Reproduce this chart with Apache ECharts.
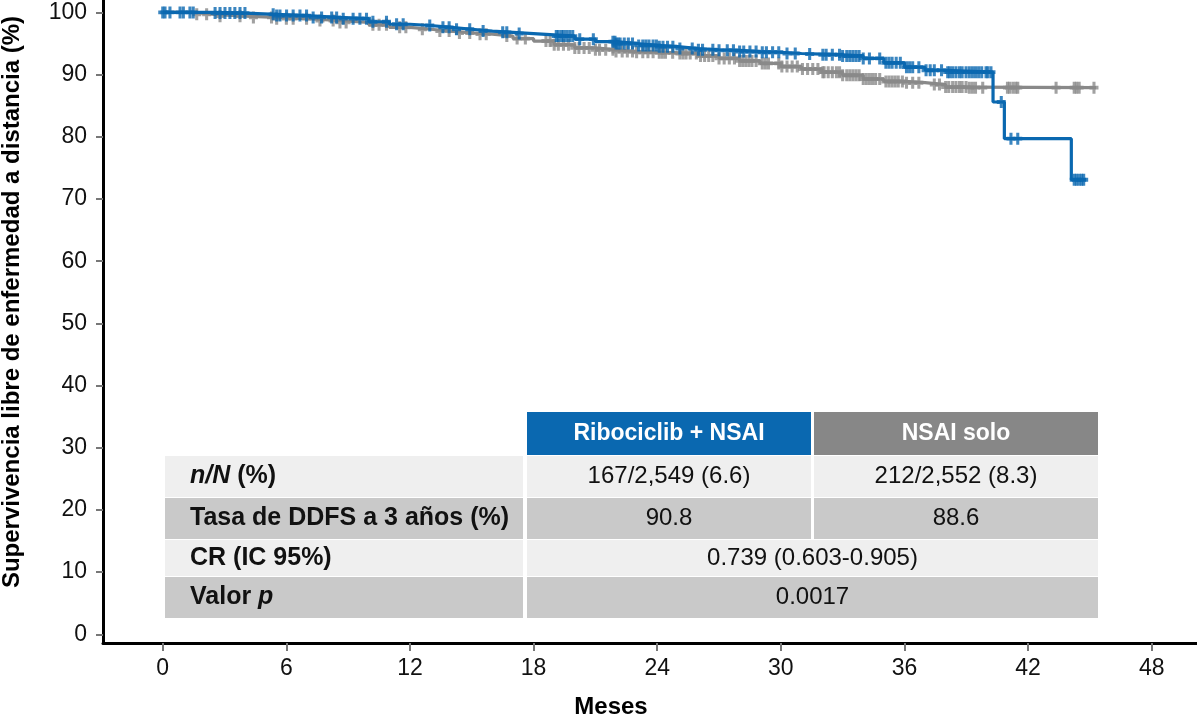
<!DOCTYPE html>
<html><head><meta charset="utf-8">
<script src="https://cdn.jsdelivr.net/npm/echarts@6/dist/echarts.min.js"></script>
<style>html,body{margin:0;padding:0;background:#fff}#c{width:1197px;height:724px}</style>
</head><body><div id="c"></div>
<script>
// ---- data ----
const xTicks = [0, 6, 12, 18, 24, 30, 36, 42, 48];
const yTicks = [0, 10, 20, 30, 40, 50, 60, 70, 80, 90, 100];

const blueTimes = [0, 2.5, 4, 5.5, 7, 8.5, 10, 11, 12, 13, 14, 15, 16, 17, 18, 19, 20, 21, 22, 23, 24, 25, 26, 27, 28, 29, 30, 31, 32, 33, 34, 35, 36, 37, 38, 40.3, 40.85, 44.1, 44.8];
const blueSurv  = [100, 99.9, 99.7, 99.5, 99.2, 99.0, 98.5, 98.1, 97.9, 97.6, 97.3, 97.0, 96.8, 96.6, 96.4, 96.2, 95.7, 95.3, 95.0, 94.7, 94.5, 94.2, 94.0, 93.9, 93.7, 93.6, 93.4, 93.3, 93.2, 93.0, 92.6, 91.9, 91.2, 90.7, 90.4, 85.6, 79.7, 73.1, 73.1];
const blueCensor = [0.0, 0.11, 0.35, 0.84, 1.0, 1.32, 1.48, 2.54, 2.78, 3.02, 3.26, 3.5, 3.75, 3.99, 5.36, 5.53, 5.69, 6.01, 6.33, 6.66, 6.98, 7.3, 7.71, 8.2, 8.44, 8.76, 9.24, 9.57, 9.89, 10.2, 10.86, 11.35, 11.67, 12.96, 13.6, 13.9, 14.26, 14.9, 15.55,
  16.5, 16.7, 17.3, 19.1, 19.35, 19.6, 19.9, 20.24, 20.9, 21.85, 22.0, 22.2, 22.6, 22.8, 23.3, 23.6, 23.96, 24.28, 24.76, 25.1, 25.7, 26.2, 26.7, 27.0, 27.4, 27.7, 28.2, 28.5, 28.8, 29.3, 29.6, 29.9, 30.3, 30.7, 31.4, 32.04, 32.2, 32.5, 32.85, 33.2, 33.5, 33.8,
  34.3, 34.8, 35.1, 35.4, 35.8, 36.1, 36.4, 36.7, 37.05, 37.45, 37.8, 38.1, 38.34, 38.67, 38.99, 39.3, 39.6, 39.96, 40.2, 40.7, 41.17, 41.5, 44.24, 44.48, 44.7,
  19.2, 19.45, 19.75, 21.95, 22.1, 22.4, 23.1, 23.45, 23.8, 24.1, 24.5, 26.0, 28.0, 29.1, 33.0, 33.35, 33.65, 34.0, 35.25, 35.6, 36.25, 37.25, 38.2, 38.5, 38.8, 39.15, 39.45, 39.75, 40.05, 44.35, 44.6];

const grayTimes = [0, 1.5, 2.5, 4, 5.5, 7, 8.5, 10, 11, 12, 13, 14, 15, 16, 17, 18, 19, 20, 21, 22, 23, 24, 25, 26, 27, 28, 29, 30, 31, 32, 33, 34, 35, 36, 37, 38, 39, 45.3];
const graySurv  = [100, 99.7, 99.4, 99.2, 99.0, 98.7, 98.4, 98.0, 97.6, 97.3, 97.0, 96.7, 96.5, 96.2, 95.8, 95.4, 94.8, 94.3, 94.0, 93.7, 93.6, 93.5, 93.4, 93.0, 92.6, 92.2, 91.8, 91.3, 90.9, 90.4, 89.9, 89.3, 88.9, 88.7, 88.4, 88.0, 87.9, 87.9];
const grayCensor = [1.65, 2.13, 2.78, 3.75, 4.4, 5.28, 5.53, 6.0, 6.33, 6.98, 7.63, 8.27, 8.6, 8.9, 10.2, 10.5, 10.86, 11.5, 11.8, 12.6, 13.45, 13.9, 14.4, 14.9, 15.4, 15.7,
  16.7, 17.2, 17.6, 18.6, 19.2, 19.7, 20.2, 20.7, 21.2, 21.85, 22.3, 22.8, 23.3, 23.8, 24.1, 24.4, 25.1, 25.4, 25.9, 26.3, 26.7, 27.0, 27.5, 28.0, 28.3, 28.6, 29.1, 29.4, 29.9, 30.3, 30.8, 31.3, 31.8, 32.04, 32.3, 32.5, 32.7, 32.85, 33.2, 33.5, 33.8, 34.15,
  34.6, 34.8, 35.1, 35.4, 35.7, 36.1, 36.4, 36.7, 37.45, 37.7, 38.0, 38.34, 38.67, 38.99, 39.3, 39.8, 41.0, 41.26, 41.5, 43.36, 44.24, 44.48, 45.2,
  18.8, 19.0, 19.45, 20.0, 20.45, 21.0, 21.5, 22.0, 22.55, 23.0, 23.55, 24.25, 24.75, 25.25, 25.6, 26.1, 26.5, 27.25, 27.75, 28.15, 28.45, 28.8, 29.25, 30.05, 30.55, 31.05, 31.55, 32.1, 33.0, 33.35, 33.65, 34.0, 34.3, 34.45, 35.25, 35.55, 35.9, 38.15, 38.5, 38.8, 39.15, 39.45, 41.1, 41.4, 44.35];

const seriesNames = ['Ribociclib + NSAI', 'NSAI solo'];
const rowLabels = ['{i|n/N} (%)', 'Tasa de DDFS a 3 años (%)', 'CR (IC 95%)', 'Valor {i|p}'];
const rowBlue = ['167/2,549 (6.6)', '90.8'];
const rowGray = ['212/2,552 (8.3)', '88.6'];
const rowMerged = ['0.739 (0.603-0.905)', '0.0017'];

// ---- build ----
const BLUE = '#0a68b0', GRAY = '#898989';
const FONT = "'Liberation Sans', Arial, Helvetica, sans-serif";
function pairs(t, v) { return t.map((x, i) => [x, v[i]]); }
function survAt(t, v, x) { let s = v[0]; for (let i = 0; i < t.length; i++) if (t[i] <= x) s = v[i]; return s; }
const plus = 'path://M3.3,0h3.4v3.4h3.3v3.2h-3.3v3.4h-3.4v-3.4h-3.3v-3.2h3.3z';

const chart = echarts.init(document.getElementById('c'), null, {renderer: 'canvas'});

const g = [];
const colL = [165, 523], colB = [527, 811], colG = [814, 1098];
const rowsY = [[412, 455], [456, 497], [498, 539], [540, 576], [577, 618]];
const light = '#efefef', dark = '#c9c9c9';
function rect(x0, x1, y0, y1, fill) { g.push({type: 'rect', shape: {x: x0, y: y0, width: x1 - x0, height: y1 - y0}, style: {fill}, z: 10}); }
function txt(text, x, y, size, weight, fill, align) {
  g.push({type: 'text', x, y, z: 11, style: {text, fontSize: size, fontWeight: weight, fontFamily: FONT, fill: fill, align: align || 'center', verticalAlign: 'middle',
    rich: {i: {fontStyle: 'italic', fontWeight: 'bold', fontSize: size, fontFamily: FONT, fill: fill}}}});
}
rect(colB[0], colB[1], rowsY[0][0], rowsY[0][1], BLUE);
rect(colG[0], colG[1], rowsY[0][0], rowsY[0][1], '#878787');
txt(seriesNames[0], (colB[0] + colB[1]) / 2, 434, 23, 'bold', '#fff');
txt(seriesNames[1], (colG[0] + colG[1]) / 2, 434, 23, 'bold', '#fff');
for (let r = 0; r < 4; r++) {
  const [y0, y1] = rowsY[r + 1];
  const fill = r % 2 === 0 ? light : dark;
  rect(colL[0], colL[1], y0, y1, fill);
  const cy = (y0 + y1) / 2;
  txt(rowLabels[r], 190, cy, 25, 'bold', '#111', 'left');
  if (r < 2) {
    rect(colB[0], colB[1], y0, y1, fill);
    rect(colG[0], colG[1], y0, y1, fill);
    txt(rowBlue[r], (colB[0] + colB[1]) / 2, cy, 24, 'normal', '#111');
    txt(rowGray[r], (colG[0] + colG[1]) / 2, cy, 24, 'normal', '#111');
  } else {
    rect(colB[0], colG[1], y0, y1, fill);
    txt(rowMerged[r - 2], (colB[0] + colG[1]) / 2, cy, 24, 'normal', '#111');
  }
}
g.push({type: 'text', x: 611, y: 707, z: 11, style: {text: 'Meses', fontSize: 24, fontWeight: 'bold', fontFamily: FONT, fill: '#000', align: 'center', verticalAlign: 'middle'}});
g.push({type: 'text', x: 12, y: 302, rotation: Math.PI / 2, z: 11, style: {text: 'Supervivencia libre de enfermedad a distancia (%)', fontSize: 24, fontWeight: 'bold', fontFamily: FONT, fill: '#000', align: 'center', verticalAlign: 'middle'}});

const option = {
  animation: false,
  grid: {left: 103, right: 0, top: 0, bottom: 81, containLabel: false},
  xAxis: {
    type: 'value', min: -2.9, max: 50.2,
    axisLine: {onZero: false, lineStyle: {color: '#000', width: 3}},
    axisTick: {customValues: xTicks, length: 8, lineStyle: {color: '#777', width: 2}},
    axisLabel: {customValues: xTicks, margin: 14, fontSize: 23, color: '#111', fontFamily: FONT},
    splitLine: {show: false}
  },
  yAxis: {
    type: 'value', min: -1.4, max: 102,
    axisLine: {show: true, onZero: false, lineStyle: {color: '#000', width: 3}},
    axisTick: {show: true, customValues: yTicks, length: 7, lineStyle: {color: '#777', width: 2}},
    axisLabel: {customValues: yTicks, margin: 16, fontSize: 23, color: '#111', fontFamily: FONT},
    splitLine: {show: false}
  },
  series: [
    {name: seriesNames[1], type: 'line', step: 'end', symbol: 'none', data: pairs(grayTimes, graySurv), lineStyle: {color: GRAY, width: 3.2}, z: 2},
    {name: seriesNames[1] + ' censor', type: 'scatter', symbol: plus, symbolSize: [9, 12], itemStyle: {color: GRAY}, data: grayCensor.map(t => [t, survAt(grayTimes, graySurv, t)]), z: 3},
    {name: seriesNames[0], type: 'line', step: 'end', symbol: 'none', data: pairs(blueTimes, blueSurv), lineStyle: {color: BLUE, width: 3.2}, z: 4},
    {name: seriesNames[0] + ' censor', type: 'scatter', symbol: plus, symbolSize: [9, 12], itemStyle: {color: BLUE}, data: blueCensor.map(t => [t, survAt(blueTimes, blueSurv, t)]), z: 5}
  ],
  graphic: g
};
chart.setOption(option);
</script></body></html>
